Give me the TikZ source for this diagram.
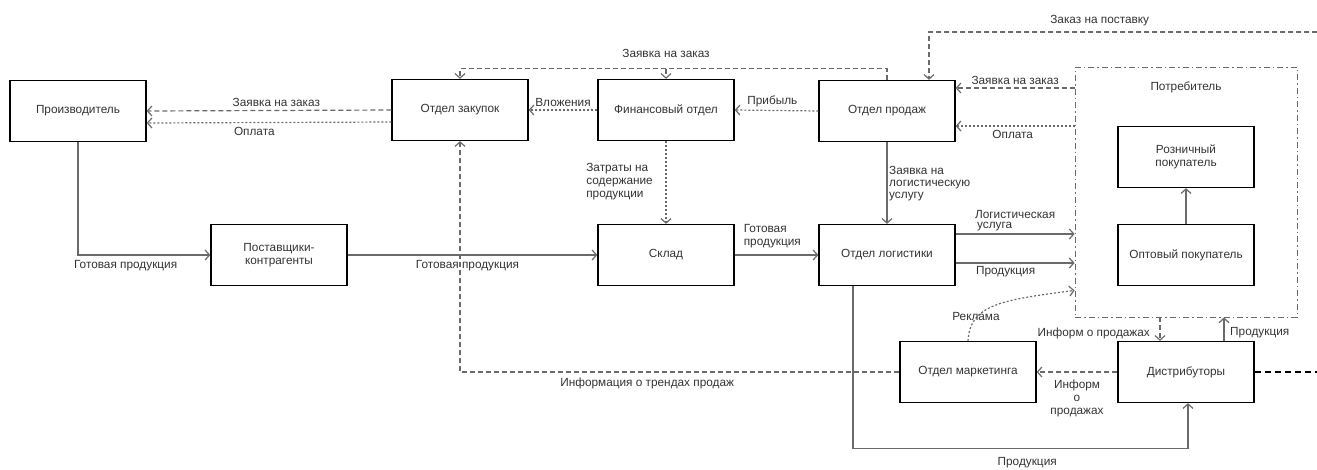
\documentclass[tikz,border=0pt]{standalone}
\usepackage{fontspec}
\setmainfont{Liberation Sans}
\usetikzlibrary{arrows.meta,positioning}
\definecolor{linegray}{HTML}{6A6A6A}
\definecolor{textgray}{HTML}{333333}
\tikzset{
  block/.style={draw, line width=1.3pt, align=center, minimum height=61pt, minimum width=136pt, font=\fontsize{11.8}{13}\selectfont, text=textgray},
  group/.style={draw=linegray, line width=0.8pt, dash pattern=on 6pt off 3pt on 1.5pt off 3pt},
  flow/.style={-{Straight Barb[length=4.5pt,width=10pt]}, draw=linegray, line width=1.2pt},
  reqflow/.style={flow, dash pattern=on 5pt off 3pt},
  payflow/.style={flow, dash pattern=on 2pt off 2pt},
  note/.style={font=\fontsize{11.8}{13}\selectfont, text=textgray, inner sep=1pt, align=left}
}

\begin{document}
\begin{tikzpicture}[x=1pt, y=-1pt]
\useasboundingbox (0,0) rectangle (1317,469);
\node[block] (maker) at (78,111) {Производитель};
\node[block] (purchase) at (460,110) {Отдел закупок};
\node[block] (finance) at (666,110) {Финансовый отдел};
\node[block] (sales) at (887,111) {Отдел продаж};
\node[block] (suppliers) at (279,255) {Поставщики-\\контрагенты};
\node[block] (store) at (666,255) {Склад};
\node[block] (logistics) at (887,255) {Отдел логистики};
\node[block] (marketing) at (968,372) {Отдел маркетинга};
\node[block] (distrib) at (1186,372) {Дистрибуторы};
\node[group, minimum width=222pt, minimum height=250pt] (consumer) at (1186,192) {};
\node[note, below=14pt of consumer.north] (consumertitle) {Потребитель};
\node[block] (retail) at (1186,157) {Розничный\\покупатель};
\node[block] (wholesale) at (1186,255) {Оптовый покупатель};

\coordinate (ordjoin) at ([yshift=10pt]finance.north);
\coordinate (supplyin) at (1317,32);
\coordinate (salesreq) at ([yshift=23pt]sales.east);
\coordinate (salespay) at ([yshift=-15pt]sales.east);
\coordinate (logsvc) at ([yshift=21pt]logistics.east);
\coordinate (logprod) at ([yshift=-8pt]logistics.east);
\coordinate (adin) at ([yshift=27pt]consumer.south west);
\coordinate (salesinfo) at ([xshift=-26pt]distrib.north);
\coordinate (distprod) at ([xshift=38pt]distrib.north);
\coordinate (logout) at ([xshift=-34pt]logistics.south);
\coordinate (distin) at ([xshift=2pt]distrib.south);
\coordinate (prodbottom) at ([yshift=-45pt]distin);
\coordinate (distribout) at (1317,372);

\draw[reqflow] (purchase.west) -- (maker.east) node[note, pos=0.47, above=2pt] {Заявка на заказ};
\draw[payflow] ([yshift=-12pt]purchase.west) -- ([yshift=-12pt]maker.east) node[note, pos=0.56, below=3pt] {Оплата};
\draw[payflow] (finance.west) -- (purchase.east) node[note, midway, above=2pt] {Вложения};
\draw[payflow] (sales.west) -- (finance.east) node[note, pos=0.55, above=2pt] {Прибыль};
\draw[reqflow] (sales.north) |- (ordjoin) -| (purchase.north);
\draw[reqflow] (ordjoin) -- (finance.north);
\node[note, above=10pt of ordjoin] (ordlabel) {Заявка на заказ};
\draw[reqflow] (supplyin) -| ([xshift=42pt]sales.north) node[note, pos=0.28, above=4pt] {Заказ на поставку};
\draw[reqflow] (consumer.west |- salesreq) -- (salesreq) node[note, midway, above=2pt] {Заявка на заказ};
\draw[payflow] (consumer.west |- salespay) -- (salespay) node[note, pos=0.52, below=3pt] {Оплата};

\draw[payflow] (finance) -- (store);
\node[note, anchor=north east, inner sep=0pt] at ([xshift=-13pt,yshift=-22pt]finance.south) {Затраты на\\содержание\\продукции};
\draw[flow] (sales) -- (logistics);
\node[note, anchor=north west, inner sep=0pt, font=\fontsize{11.8}{12}\selectfont] at ([xshift=2pt,yshift=-24pt]sales.south) {Заявка на\\логистическую\\услугу};

\draw[flow] (maker) |- (suppliers) node[note, pos=0.68, below=4pt] {Готовая продукция};
\draw[flow] (suppliers) -- (store) node[note, pos=0.48, below=4pt] {Готовая продукция};
\draw[flow] (store) -- (logistics) node[note, pos=0.45, above=5pt] {Готовая\\продукция};
\draw[flow] (logsvc) -- (consumer.west |- logsvc) node[note, midway, above=1pt, font=\fontsize{11.8}{10}\selectfont] {Логистическая\\\hspace*{2pt}услуга};
\draw[flow] (logprod) -- (consumer.west |- logprod) node[note, pos=0.42, below=2pt] {Продукция};
\draw[flow] (wholesale) -- (retail);

\draw[payflow] (marketing.north) .. controls (970,305) and (1000,300) .. (adin);
\node[note] at (976,316) {Реклама};
\draw[reqflow] (consumer.south -| salesinfo) -- (salesinfo);
\node[note, anchor=east] at (1151,333) {Информ о продажах};
\draw[flow] (distprod) -- (consumer.south -| distprod);
\node[note, anchor=west] at (1229,333) {Продукция};
\draw[reqflow] (distrib) -- (marketing) node[note, midway, below=6pt, align=center] {Информ\\о\\продажах};
\draw[reqflow] (marketing) -| (purchase) node[note, pos=0.287, below=4pt] {Информация о трендах продаж};
\draw[flow] (logout) |- (prodbottom) node[note, pos=0.76, below=8pt] {Продукция} -- (distin);
\draw[black, line width=1.3pt, dash pattern=on 6pt off 4pt] (distrib.east) -- (distribout);
\end{tikzpicture}
\end{document}
